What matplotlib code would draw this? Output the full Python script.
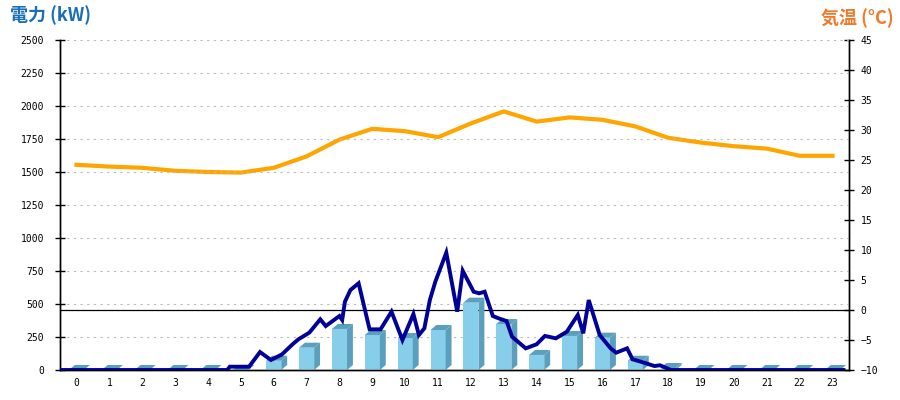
import numpy as np
import matplotlib
matplotlib.use('Agg')
import matplotlib.pyplot as plt
from matplotlib.patches import Polygon

plt.rcParams['font.family'] = ['Noto Sans CJK JP', 'DejaVu Sans']

# hourly categories
hours = list(range(24))

# hourly power (bars, kW)
power_hourly = [0, 0, 0, 0, 0, 0, 70, 169, 311, 265, 242, 303,
                510, 348, 114, 258, 245, 70, 15, 0, 0, 0, 0, 0]

# hourly temperature (deg C)
temp_hourly = [24.2, 23.9, 23.7, 23.2, 23.0, 22.9, 23.7, 25.6, 28.4, 30.2, 29.8, 28.8,
               31.1, 33.1, 31.4, 32.1, 31.7, 30.6, 28.7, 27.9, 27.3, 26.9, 25.7, 25.7]

# demand curve (time of day, kW)
curve_time = ['0:00', '5:05', '5:10', '5:45', '6:05', '6:25', '6:45', '7:05', '7:15',
              '7:35', '7:55', '8:05', '8:30', '8:35', '8:40', '8:50', '9:05', '9:25',
              '9:45', '10:05', '10:25', '10:45', '10:55', '11:05', '11:15', '11:25',
              '11:45', '12:05', '12:15', '12:35', '12:45', '12:55', '13:10', '13:20',
              '13:35', '13:45', '14:10', '14:30', '14:45', '15:05', '15:25', '15:45',
              '15:55', '16:05', '16:25', '16:45', '16:55', '17:15', '17:25', '17:40',
              '18:05', '18:15', '18:35', '23:50']
curve_kw = [0, 0, 25, 25, 136, 76, 118, 197, 232,
            283, 384, 333, 409, 379, 517, 606, 657, 308,
            308, 442, 227, 424, 265, 316, 530, 669,
            889, 442, 752, 593, 581, 593, 409, 392,
            371, 252, 164, 195, 258, 240, 290, 417,
            278, 530, 265, 164, 131, 164, 81, 63,
            30, 36, 0, 0]

FRONT = '#87CEEB'
SIDE = '#5AA0BD'
NAVY = '#000099'
ORANGE = '#FFA500'

fig = plt.figure(figsize=(9, 4), dpi=100)
ax = fig.add_axes([0.0667, 0.075, 0.8766, 0.825])
ax2 = ax.twinx()
ax.set_zorder(ax2.get_zorder() + 1)
ax.patch.set_visible(False)

# 3D-ish bars
w, dx, dy = 0.46, 0.18, 38
for i, v in zip(hours, power_hourly):
    l, r = i - w / 2, i + w / 2
    ax.add_patch(Polygon([(l, 0), (r, 0), (r, v), (l, v)], closed=True,
                         facecolor=FRONT, edgecolor='none', zorder=2))
    ax.add_patch(Polygon([(r, 0), (r + dx, dy), (r + dx, v + dy), (r, v)], closed=True,
                         facecolor=SIDE, edgecolor='none', zorder=2))
    ax.add_patch(Polygon([(l, v), (l + dx, v + dy), (r + dx, v + dy), (r, v)], closed=True,
                         facecolor=SIDE, edgecolor='none', zorder=2))

# 10-minute demand line
t = [int(s.split(':')[0]) + int(s.split(':')[1]) / 60 for s in curve_time]
ax.plot(np.array(t) - 0.5, curve_kw, color=NAVY, lw=2.8, zorder=4,
        solid_joinstyle='miter')

# temperature
ax2.plot(hours, temp_hourly, color=ORANGE, lw=3.0, zorder=3)
ax2.axhline(0, color='black', lw=0.9, zorder=2)

ax.set_xlim(-0.5, 23.5)
ax.set_ylim(0, 2500)
ax2.set_ylim(-10, 45)
ax.set_yticks(np.arange(0, 2501, 250))
ax2.set_yticks(np.arange(-10, 46, 5))
ax.set_xticks(hours)
ax.set_xticklabels([str(h) for h in hours])

ax.grid(axis='y', color='#BBBBBB', ls=(0, (2, 4)), lw=0.8)
ax.set_axisbelow(True)

for a in (ax, ax2):
    a.spines['top'].set_visible(False)
    for s in ('left', 'right', 'bottom'):
        a.spines[s].set_linewidth(1.0)
        a.spines[s].set_color('black')

mono = dict(family='DejaVu Sans Mono', size=7)
ax.tick_params(axis='y', direction='inout', length=7, width=1.0, pad=8)
ax2.tick_params(axis='y', direction='inout', length=7, width=1.0, pad=5)
ax.tick_params(axis='x', length=0, pad=6)
for lab in ax.get_yticklabels() + ax.get_xticklabels() + ax2.get_yticklabels():
    lab.set_fontfamily('DejaVu Sans Mono')
    lab.set_fontsize(7)

fig.text(0.011, 0.962, '電力 (kW)', color='#1A6FB8', fontsize=13, fontweight='bold',
         va='center', ha='left')
fig.text(0.993, 0.955, '気温 (°C)', color='#EE7A2A', fontsize=13, fontweight='bold',
         va='center', ha='right')

fig.savefig('out.png', dpi=100)
plt.close(fig)
